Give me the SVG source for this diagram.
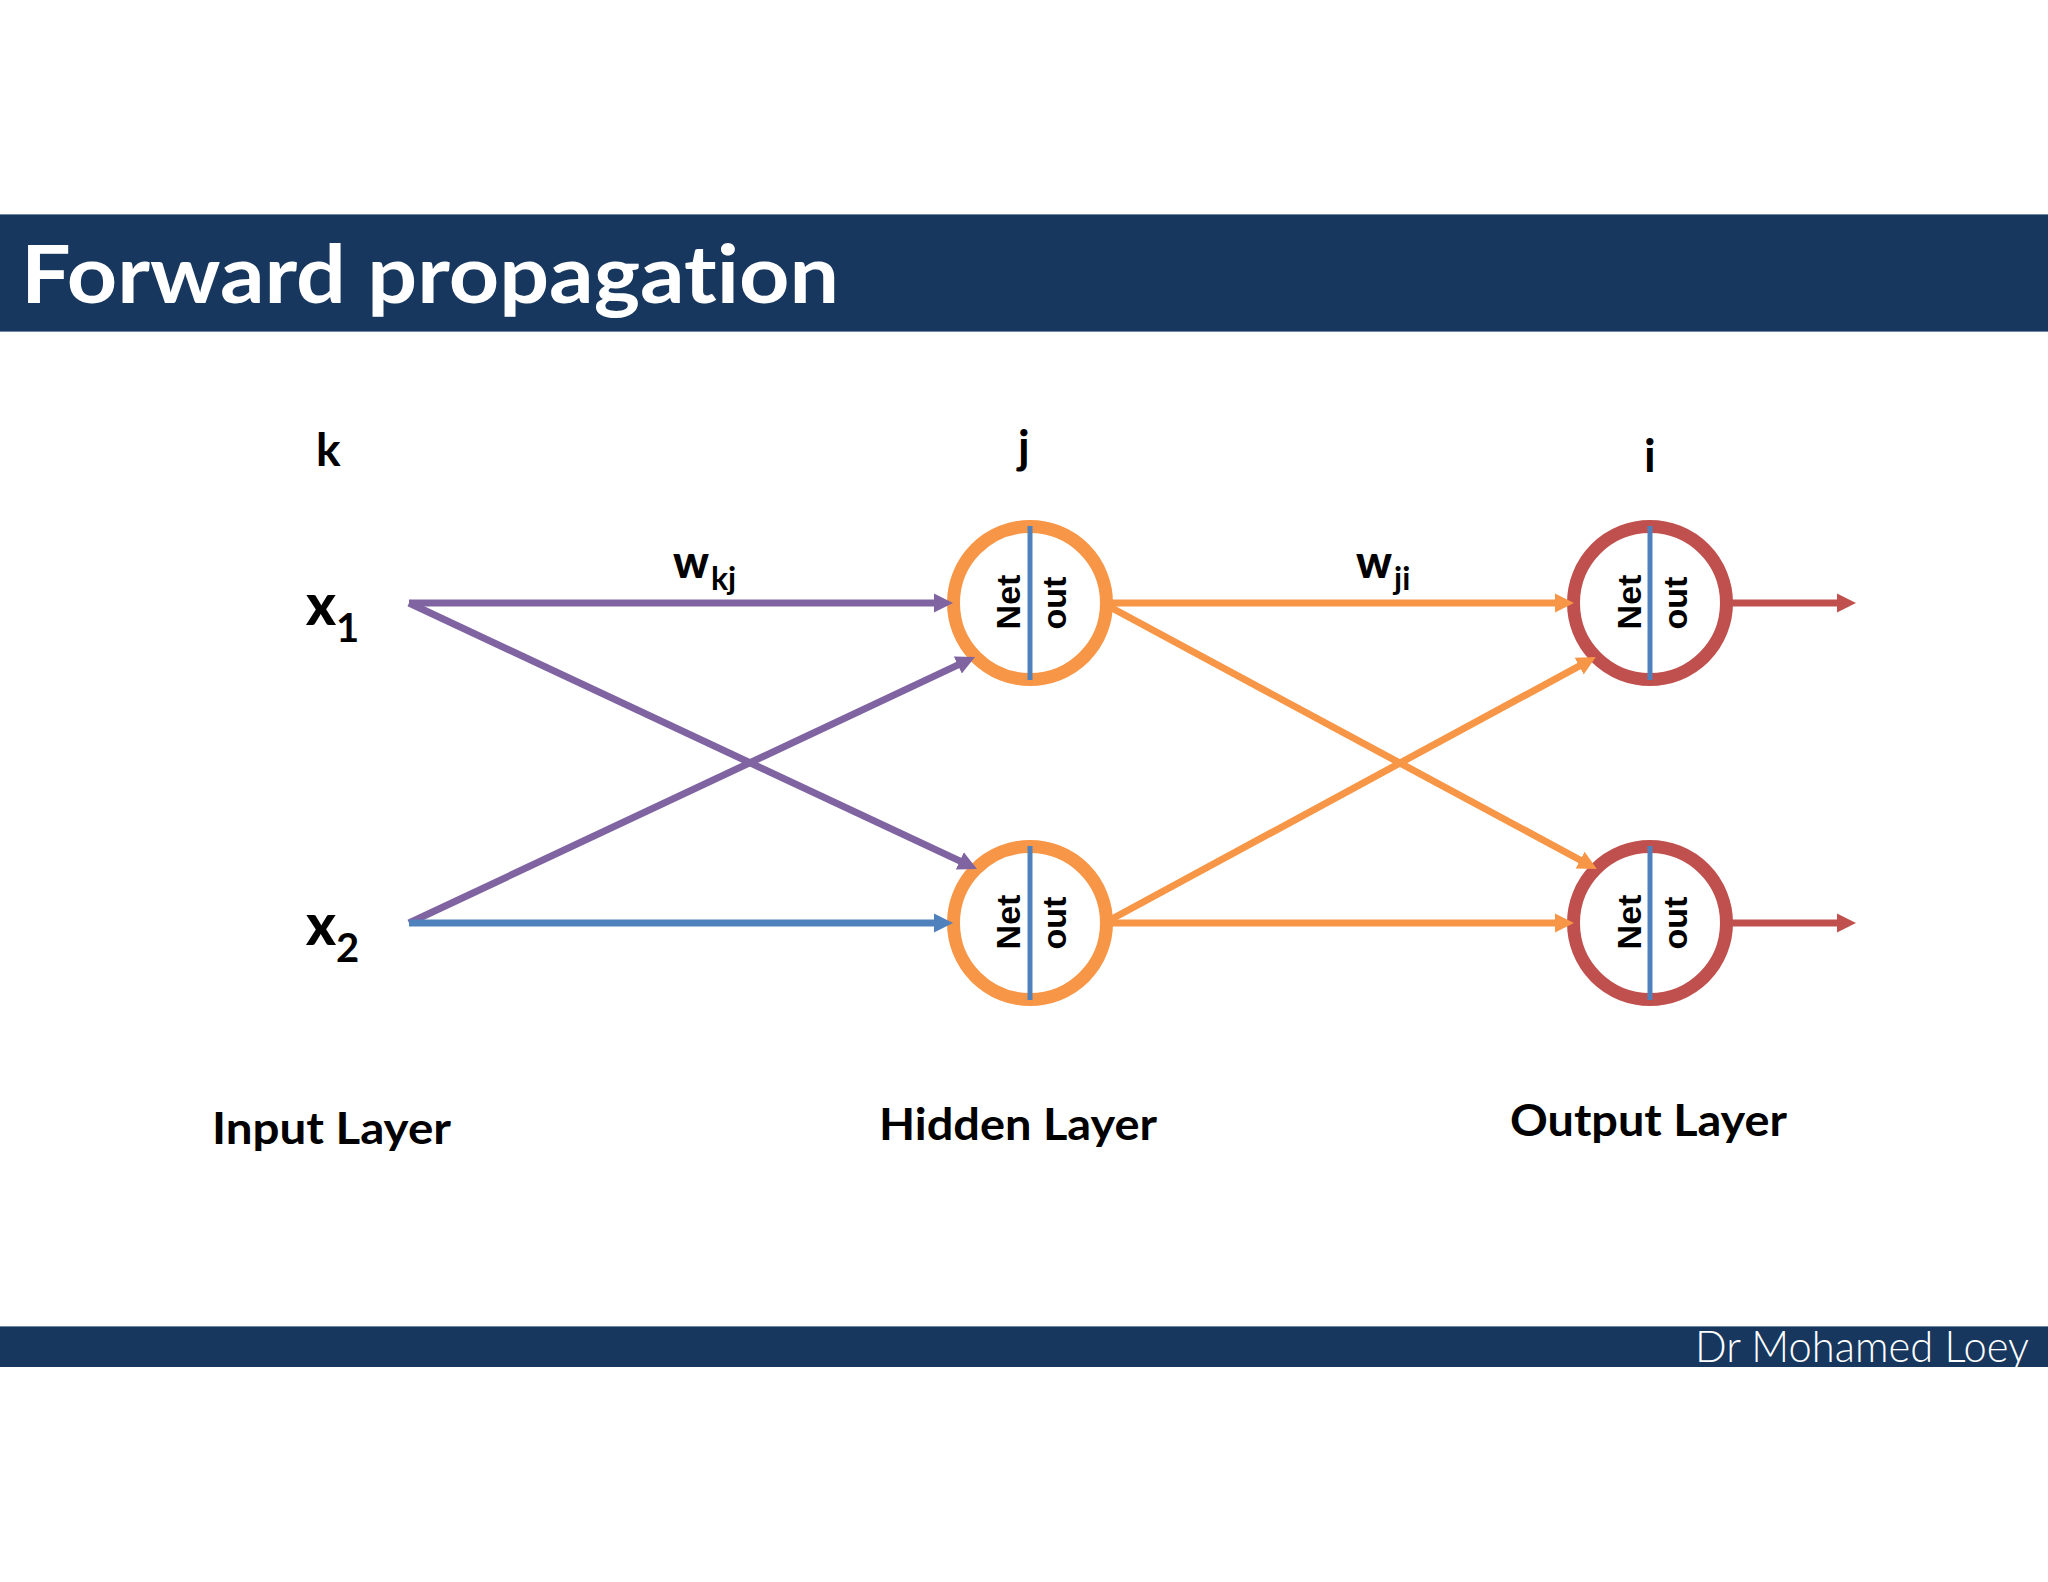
<svg xmlns="http://www.w3.org/2000/svg" width="2048" height="1582" viewBox="0 0 2048 1582">
<style>
text{font-variant-ligatures:none}
.l{font-family:Lato,"Liberation Sans",sans-serif;font-weight:700;fill:#000}
.x{font-weight:900}
.n{font-family:"Liberation Sans",Arial,sans-serif;font-weight:700;font-size:34px;fill:#000;text-anchor:middle}
.c{fill:#fff;stroke-width:13}
.d{stroke:#4f81bd;stroke-width:5}
.a{fill:none;stroke-width:7}
.p{stroke:#8064a2}.o{stroke:#f79646}.r{stroke:#c0504d}.b{stroke:#4f81bd}
</style>
<defs>
<marker id="mp" markerUnits="userSpaceOnUse" markerWidth="20" markerHeight="20" refX="1" refY="10" orient="auto"><path d="M0 0.5L19 10L0 19.5z" fill="#8064a2"/></marker>
<marker id="mb" markerUnits="userSpaceOnUse" markerWidth="20" markerHeight="20" refX="1" refY="10" orient="auto"><path d="M0 0.5L19 10L0 19.5z" fill="#4f81bd"/></marker>
<marker id="mo" markerUnits="userSpaceOnUse" markerWidth="20" markerHeight="20" refX="1" refY="10" orient="auto"><path d="M0 0.5L19 10L0 19.5z" fill="#f79646"/></marker>
<marker id="mr" markerUnits="userSpaceOnUse" markerWidth="20" markerHeight="20" refX="1" refY="10" orient="auto"><path d="M0 0.5L19 10L0 19.5z" fill="#c0504d"/></marker>
</defs>
<rect width="2048" height="1582" fill="#fff"/>
<g id="header"><rect x="0" y="214" width="2048" height="118" fill="#17375e"/>
<path d="M0 214.5H2048M0 331.5H2048" stroke="#6f87a3" stroke-width="1"/>
<text x="21" y="303" font-family="Lato,sans-serif" font-weight="700" font-size="81" fill="#fff" textLength="818" lengthAdjust="spacingAndGlyphs">Forward propagation</text></g>
<g id="footer"><rect x="0" y="1326" width="2048" height="41" fill="#17375e"/>
<path d="M0 1326.5H2048" stroke="#6f87a3" stroke-width="1"/>
<text x="1695" y="1362" font-family="Lato,sans-serif" font-weight="300" font-size="44" fill="#fff" textLength="334" lengthAdjust="spacingAndGlyphs">Dr Mohamed Loey</text></g>
<g id="h1"><circle class="c o" cx="1030" cy="603" r="76.5"/><path class="d" d="M1030 526V680"/>
<text class="n" transform="translate(1020 602) rotate(-90)">Net</text><text class="n" transform="translate(1066 603) rotate(-90)">out</text></g>
<g id="h2"><circle class="c o" cx="1030" cy="923" r="76.5"/><path class="d" d="M1030 846V1000"/>
<text class="n" transform="translate(1020 922) rotate(-90)">Net</text><text class="n" transform="translate(1066 923) rotate(-90)">out</text></g>
<g id="o1"><circle class="c r" cx="1650" cy="603" r="76.5"/><path class="d" d="M1650 526V680"/>
<text class="n" transform="translate(1640.5 602) rotate(-90)">Net</text><text class="n" transform="translate(1687 603) rotate(-90)">out</text></g>
<g id="o2"><circle class="c r" cx="1650" cy="923" r="76.5"/><path class="d" d="M1650 846V1000"/>
<text class="n" transform="translate(1640.5 922) rotate(-90)">Net</text><text class="n" transform="translate(1687 923) rotate(-90)">out</text></g>
<g id="connectors">
<path class="a p" marker-end="url(#mp)" d="M409 603H935"/>
<path class="a p" marker-end="url(#mp)" d="M409 603L960.7 861.4"/>
<path class="a p" marker-end="url(#mp)" d="M409 923L958.7 664.6"/>
<path class="a b" marker-end="url(#mb)" d="M409 923H935"/>
<path class="a o" marker-end="url(#mo)" d="M1110 603H1556"/>
<path class="a o" marker-end="url(#mo)" d="M1110 607L1581 860.5"/>
<path class="a o" marker-end="url(#mo)" d="M1110 920L1580 665.6"/>
<path class="a o" marker-end="url(#mo)" d="M1110 923H1556"/>
<path class="a r" marker-end="url(#mr)" d="M1732 603H1838"/>
<path class="a r" marker-end="url(#mr)" d="M1732 923H1838"/>
</g>
<g id="labels">
<text class="l" x="316" y="466" font-size="46">k</text>
<text class="l" x="1018" y="463" font-size="46">j</text>
<text class="l" x="1644" y="472" font-size="46">i</text>
<text class="l x" x="673" y="578" font-size="46" textLength="36" lengthAdjust="spacingAndGlyphs">w</text><text class="l" x="711" y="590" font-size="32">kj</text>
<text class="l x" x="1356" y="578" font-size="46" textLength="36" lengthAdjust="spacingAndGlyphs">w</text><text class="l" x="1394" y="590" font-size="32">ji</text>
<text class="l x" x="306" y="625" font-size="58" textLength="30" lengthAdjust="spacingAndGlyphs">x</text><text class="l" x="336" y="642" font-size="40">1</text>
<text class="l x" x="306" y="945" font-size="58" textLength="30" lengthAdjust="spacingAndGlyphs">x</text><text class="l" x="336" y="962" font-size="40">2</text>
<text class="l" x="212" y="1144" font-size="43" textLength="239" lengthAdjust="spacingAndGlyphs">Input Layer</text>
<text class="l" x="879" y="1140" font-size="43" textLength="278" lengthAdjust="spacingAndGlyphs">Hidden Layer</text>
<text class="l" x="1510" y="1136" font-size="43" textLength="277" lengthAdjust="spacingAndGlyphs">Output Layer</text>
</g>
</svg>
